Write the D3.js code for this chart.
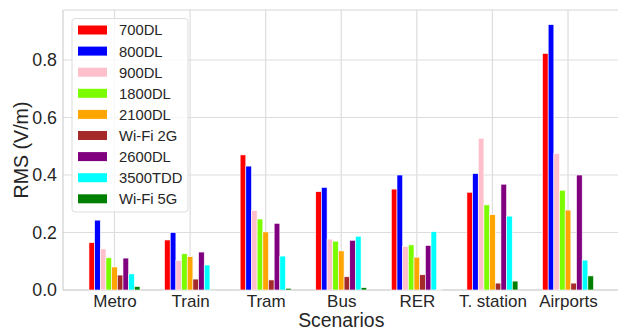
<!DOCTYPE html>
<html>
<head>
<meta charset="utf-8">
<script src="https://cdn.jsdelivr.net/npm/d3@7"></script>
<style>
  body { margin: 0; background: #fff; }
  text { font-family: "Liberation Sans", Arial, sans-serif; fill: #262626; }
</style>
</head>
<body>
<svg id="chart" width="618" height="331"></svg>
<script>
// scenarios on the x axis
var scenarios = ["Metro", "Train", "Tram", "Bus", "RER", "T. station", "Airports"];
// bands (one bar per band in each group)
var bands = ["700DL", "800DL", "900DL", "1800DL", "2100DL", "Wi-Fi 2G", "2600DL", "3500TDD", "Wi-Fi 5G"];
var couleurs = ["#ff0000", "#0000ff", "#ffc0cb", "#7cfc00", "#ffa500", "#a52a2a", "#800080", "#00ffff", "#008000"];

// RMS values (V/m), one array per band, in scenario order
var v700 = [0.165, 0.174, 0.470, 0.342, 0.351, 0.340, 0.823];
var v800 = [0.243, 0.200, 0.431, 0.357, 0.400, 0.405, 0.923];
var v900 = [0.143, 0.102, 0.276, 0.177, 0.151, 0.528, 0.475];
var v1800 = [0.112, 0.126, 0.247, 0.170, 0.157, 0.296, 0.347];
var v2100 = [0.080, 0.116, 0.202, 0.136, 0.114, 0.262, 0.278];
var vWifi2 = [0.052, 0.038, 0.035, 0.046, 0.053, 0.024, 0.024];
var v2600 = [0.111, 0.132, 0.232, 0.173, 0.155, 0.368, 0.400];
var v3500 = [0.056, 0.087, 0.118, 0.187, 0.203, 0.257, 0.104];
var vWifi5 = [0.012, 0.001, 0.006, 0.008, 0.002, 0.031, 0.049];
var series = [v700, v800, v900, v1800, v2100, vWifi2, v2600, v3500, vWifi5];

var yTicks = [0.0, 0.2, 0.4, 0.6, 0.8];

var marges = { top: 10, left: 63, bottom: 41 };
var largeur = 618, hauteur = 331;
var largeurBarre = 0.075;

var svg = d3.select("#chart");

// x scale in category units, like matplotlib with its margins
var echelleX = d3.scaleLinear()
    .domain([-0.681, 6.681])
    .range([marges.left, 619.5]);

var echelleY = d3.scaleLinear()
    .domain([0, 0.974])
    .range([hauteur - marges.bottom, marges.top]);

var grille = "#dddddd";

// horizontal grid
svg.append("g").selectAll("line").data(yTicks).enter().append("line")
    .attr("x1", marges.left).attr("x2", largeur)
    .attr("y1", d => echelleY(d)).attr("y2", d => echelleY(d))
    .attr("stroke", grille).attr("stroke-width", 1.2);

// vertical grid at the scenarios
svg.append("g").selectAll("line").data(scenarios).enter().append("line")
    .attr("x1", (d, i) => echelleX(i)).attr("x2", (d, i) => echelleX(i))
    .attr("y1", echelleY(0)).attr("y2", marges.top)
    .attr("stroke", grille).attr("stroke-width", 1.2);

// spines
svg.append("line").attr("x1", marges.left).attr("x2", marges.left)
    .attr("y1", marges.top).attr("y2", echelleY(0))
    .attr("stroke", "#d0d0d0").attr("stroke-width", 1.2);
svg.append("line").attr("x1", marges.left).attr("x2", largeur)
    .attr("y1", echelleY(0)).attr("y2", echelleY(0))
    .attr("stroke", "#d0d0d0").attr("stroke-width", 1.2);
svg.append("line").attr("x1", marges.left).attr("x2", largeur)
    .attr("y1", marges.top).attr("y2", marges.top)
    .attr("stroke", "#d8d8d8").attr("stroke-width", 1.2);

// bars
series.forEach(function(valeurs, j) {
    svg.append("g").selectAll("rect").data(valeurs).enter().append("rect")
        .attr("x", (d, i) => echelleX(i + (j - 4.5) * largeurBarre))
        .attr("width", echelleX(largeurBarre) - echelleX(0))
        .attr("y", d => echelleY(d))
        .attr("height", d => echelleY(0) - echelleY(d))
        .attr("fill", couleurs[j])
        .attr("stroke", "#ffffff")
        .attr("stroke-width", 0.6);
});

// y axis
var axeY = d3.axisLeft(echelleY).tickValues(yTicks).tickFormat(d3.format(".1f")).tickSize(0).tickPadding(6);
var gY = svg.append("g").attr("transform", "translate(" + marges.left + ",0)").call(axeY);
gY.select(".domain").remove();
gY.selectAll("text").attr("font-size", "17.8px").attr("font-family", "Liberation Sans, Arial, sans-serif").attr("fill", "#262626");

// x axis
var axeX = d3.axisBottom(echelleX).tickValues(d3.range(scenarios.length)).tickFormat(i => scenarios[i]).tickSize(0).tickPadding(4.5);
var gX = svg.append("g").attr("transform", "translate(0," + echelleY(0) + ")").call(axeX);
gX.select(".domain").remove();
gX.selectAll("text").attr("font-size", "17px").attr("font-family", "Liberation Sans, Arial, sans-serif").attr("fill", "#262626");

// axis titles
svg.append("text").attr("x", echelleX(3)).attr("y", 327)
    .attr("text-anchor", "middle").attr("font-size", "19.4px").text("Scenarios");
svg.append("text").attr("transform", "translate(27.5," + echelleY(0.487) + ") rotate(-90)")
    .attr("text-anchor", "middle").attr("font-size", "19.6px").text("RMS (V/m)");

// legend
var legende = svg.append("g").attr("transform", "translate(72,18.5)");
legende.append("rect")
    .attr("width", 116).attr("height", 193.5).attr("rx", 3)
    .attr("fill", "#ffffff").attr("fill-opacity", 0.8)
    .attr("stroke", "#dddddd").attr("stroke-width", 1);
var items = legende.selectAll(".item").data(bands).enter().append("g")
    .attr("class", "item")
    .attr("transform", (d, i) => "translate(0," + (11.5 + i * 21.1) + ")");
items.append("rect")
    .attr("x", 6).attr("y", -4.5).attr("width", 29).attr("height", 9)
    .attr("fill", (d, i) => couleurs[i]);
items.append("text")
    .attr("x", 47).attr("y", 5.4)
    .attr("font-size", "14.8px").text(d => d);
</script>
</body>
</html>
